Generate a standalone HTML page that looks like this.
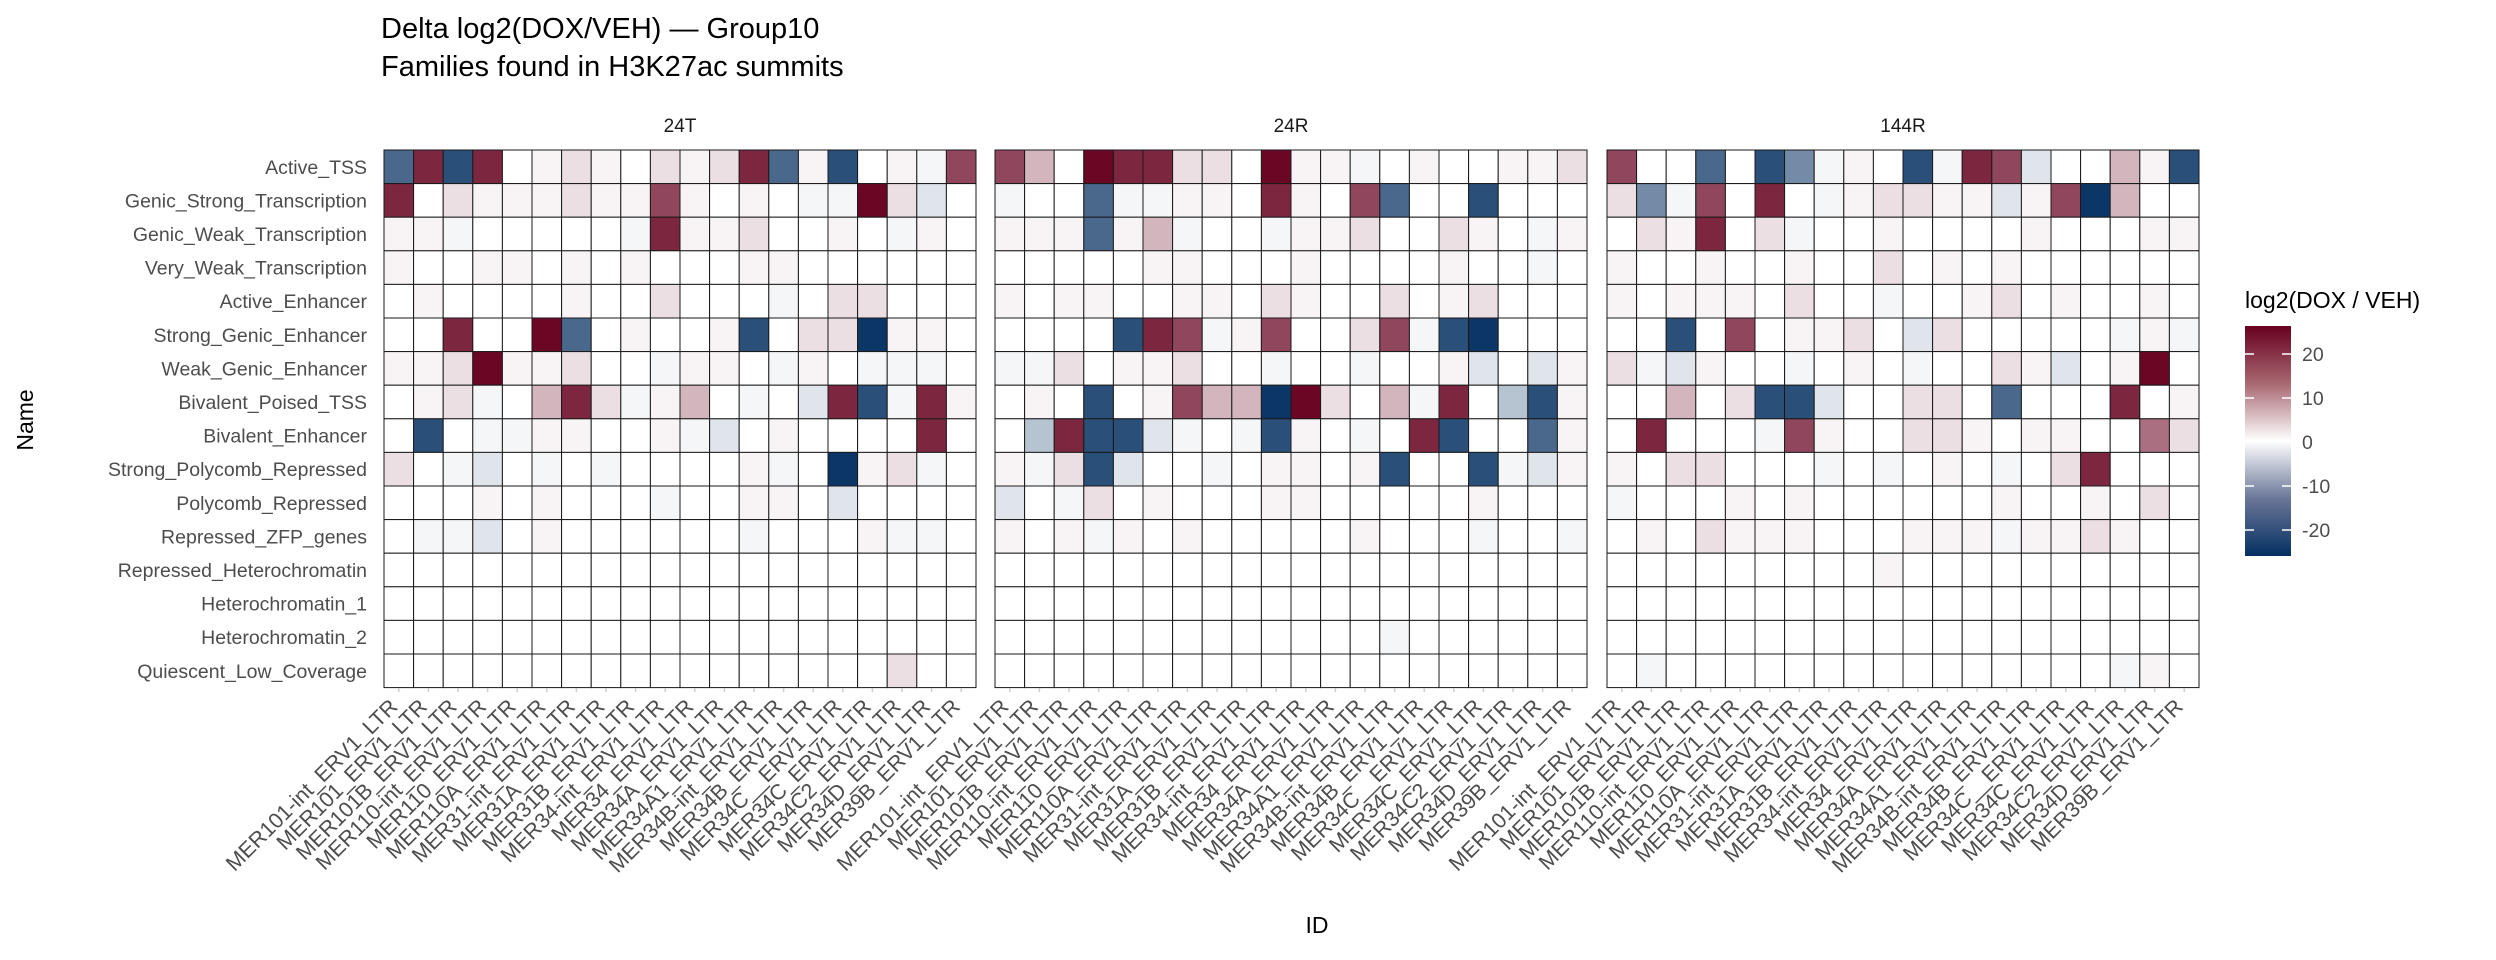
<!DOCTYPE html>
<html><head><meta charset="utf-8">
<style>
html,body{margin:0;padding:0;background:#fff;}
svg{display:block;font-family:"Liberation Sans",sans-serif;}
</style></head>
<body>
<svg id="s" width="2496" height="960" viewBox="0 0 2496 960" xmlns="http://www.w3.org/2000/svg">
<defs>
<linearGradient id="lg" x1="0" y1="0" x2="0" y2="1">
<stop offset="0" stop-color="#67001F"/>
<stop offset="0.25" stop-color="#a86872"/>
<stop offset="0.5" stop-color="#ffffff"/>
<stop offset="0.75" stop-color="#6a7698"/>
<stop offset="1" stop-color="#053061"/>
</linearGradient>
</defs>
<text x="381" y="38" font-size="29" fill="#000">Delta log2(DOX/VEH) — Group10</text>
<text x="381" y="76" font-size="29" fill="#000">Families found in H3K27ac summits</text>
<text x="27" y="420" font-size="23" fill="#000" text-anchor="middle" transform="rotate(-90 27 420)" dominant-baseline="middle">Name</text>
<text x="1317" y="933" font-size="23" fill="#000" text-anchor="middle">ID</text>
<text x="2245" y="308" font-size="23" fill="#000">log2(DOX / VEH)</text>
<rect x="2245" y="326" width="46" height="230" fill="url(#lg)"/>
<g id="g"></g>
</svg>
<script>
var rows=["Active_TSS","Genic_Strong_Transcription","Genic_Weak_Transcription","Very_Weak_Transcription","Active_Enhancer","Strong_Genic_Enhancer","Weak_Genic_Enhancer","Bivalent_Poised_TSS","Bivalent_Enhancer","Strong_Polycomb_Repressed","Polycomb_Repressed","Repressed_ZFP_genes","Repressed_Heterochromatin","Heterochromatin_1","Heterochromatin_2","Quiescent_Low_Coverage"];
var cols=["MER101-int","MER101","MER101B","MER110-int","MER110","MER110A","MER31-int","MER31A","MER31B","MER34-int","MER34","MER34A","MER34A1","MER34B-int","MER34B","MER34C_","MER34C","MER34C2","MER34D","MER39B"];
var P=[
["E6F6012102126E1F01A5","60211121151010AA72B0","11A00000A61120010A10","10011010100011000000","0100001002000A022000","006007E01001F022G110","112711200A110A10AAA0","012A0362A130A0B6FA61","0F0AA11001AB01000060","20AB0A0A00001A0G12A0","000101000A00110B0000","0AAB01000000A0001AA0","00000000000000000000","00000000000000000000","00000000000000000000","00000000000000000200"],
["530766220711A0100112","A00EAA1106105E00F000","111E13A00A11200210A1","000001100010000100A0","10110011021002012000","0000F65A150025AFG000","AA2011200A00A001B0B1","010F01533G7203A60CF1","0C6FFBA0AF10A06F00E1","1A2FB00A01101F00FAB1","B0A20100011000001000","101A101000001000A00A","00000000000000000000","00000000000000000000","0000000000000A000000","00000000000000000000"],
["500E0FDA10FA65B0031F","2DA5060A12211B15G300","021602A0010000100011","10010010020101000000","101110200A0012010010","00F0501120B200000A1A","2AB100A010A0021B0170","00302FFB00220E000601","06000A51002210110042","1022000A0A010A026000","A0001010000001001020","0102111000111A112100","00000000010000000000","00000000000000000000","00000000000000000000","0A000000000000000A10"]];
var vals=[0,0.4,1.6,5,12,17,21,25];
function val(c){if(c>="0"&&c<="7")return vals[+c];return -vals["ABCDEFG".indexOf(c)+1];}
var hi=[0x67,0x00,0x1F],lo=[0x05,0x30,0x61];
function col(v){var t=Math.min(Math.abs(v)/26,1);t=Math.pow(t,0.75);var e=v>=0?hi:lo;
 var r=e.map(function(x){return Math.round(255+(x-255)*t);});return "rgb("+r.join(",")+")";}
var lefts=[384,995,1607],W=29.6,H=33.6,T=150,out="";
var strips=["24T","24R","144R"];
for(var p=0;p<3;p++){var L=lefts[p];
 out+='<text x="'+(L+296)+'" y="132" font-size="19" fill="#1a1a1a" text-anchor="middle">'+strips[p]+'</text>';
 for(var r=0;r<16;r++)for(var c=0;c<20;c++){
  out+='<rect x="'+(L+c*W).toFixed(1)+'" y="'+(T+r*H).toFixed(1)+'" width="'+W+'" height="'+H+'" fill="'+col(val(P[p][r][c]))+'" stroke="#1a1a1a" stroke-width="1"/>';}
 for(var c=0;c<20;c++){var x=L+c*W+W/2;
  out+='<line x1="'+x+'" y1="688" x2="'+x+'" y2="692" stroke="#cccccc" stroke-width="1.5"/>';
  out+='<text x="'+x+'" y="708" font-size="21.5" fill="#4d4d4d" text-anchor="end" transform="rotate(-45 '+x+' 708)">'+cols[c]+'_ERV1_LTR</text>';}
}
for(var r=0;r<16;r++){out+='<text x="367" y="'+(T+r*H+H/2+7).toFixed(1)+'" font-size="19.5" fill="#4d4d4d" text-anchor="end">'+rows[r]+'</text>';}
var tk=[20,10,0,-10,-20];
tk.forEach(function(v){var y=442-v*4.4;
 out+='<line x1="2245" y1="'+y+'" x2="2254" y2="'+y+'" stroke="#fff" stroke-width="1.5"/><line x1="2282" y1="'+y+'" x2="2291" y2="'+y+'" stroke="#fff" stroke-width="1.5"/>';
 out+='<text x="2302" y="'+(y+7)+'" font-size="19.5" fill="#4d4d4d">'+v+'</text>';});
document.getElementById("g").innerHTML=out;
</script>
</body></html>
